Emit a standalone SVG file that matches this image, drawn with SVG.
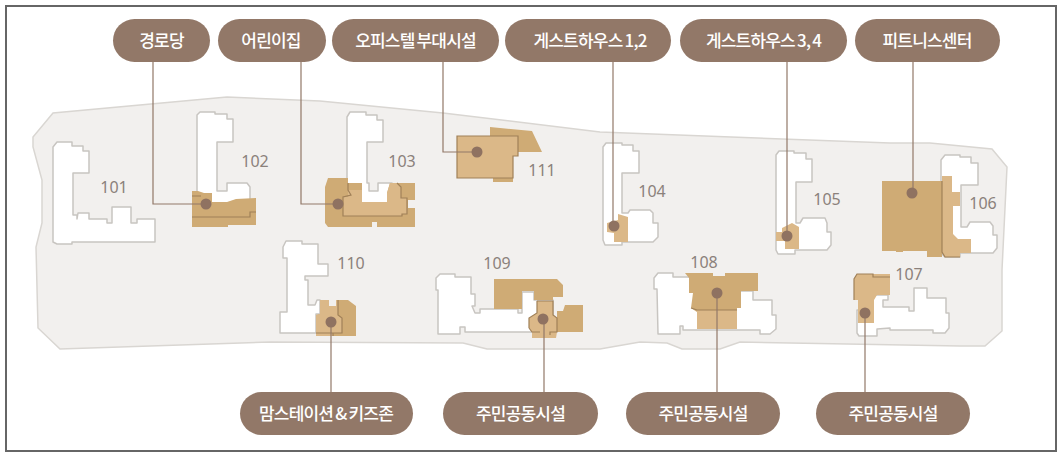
<svg xmlns="http://www.w3.org/2000/svg" width="1062" height="457" viewBox="0 0 1062 457">
<style>
.site{fill:#f2f0ee;stroke:#d9d6d2;stroke-width:1.5}
.wh{fill:#fff;stroke:#c8c5c1;stroke-width:1.5;stroke-linejoin:round}
.tan{fill:#cfab75}
.lt{fill:#dbb888}
.ol{fill:none;stroke:#a08058;stroke-width:1.2}
.dot{fill:#8f7261}
.pill{fill:#927868}
.pt{font-family:"Noto Sans CJK KR","Noto Sans",sans-serif;font-size:17px;font-weight:500;fill:#fff;text-anchor:middle;letter-spacing:-.8px;word-spacing:-1px}
.num{font-family:"Noto Sans","Open Sans",sans-serif;font-size:16px;fill:#8b817b;text-anchor:middle}
.ln{fill:none;stroke:#927868;stroke-width:1.2}
</style>
<rect x="6" y="6" width="1050" height="445" fill="#fff" stroke="#666" stroke-width="2"/>
<path class="site" d="M53 113L33 137V147L42 180V223L36 247L38 328L60 349L270 342L463 343L487 349H600L640 342L667 343L682 349H720L740 342L960 346H985L1002 331V270L1007 167L992 149L930 143H890L600 132L443 113L320 101L227 97Z"/>
<g id="b101"><path class="wh" d="M53 147L57 142H72V146H83V151H89V173H73V215H77V219L78 213H89V219H107V223H112V207H131V223H137V219H155V242H72V244H57L53 242Z"/><text class="num" x="114" y="193">101</text></g>
<g id="b102"><path class="wh" d="M197 115L200 112H215V114H227V119H233V142H217V191H227V183H247L250 187V205H197Z"/><path class="tan" d="M192 191L198 191L204 193H212V202H227L236 199L256 198V225H240L228 225V227H192Z"/><path class="ol" d="M192 196H201M192 217H250V212H256"/><text class="num" x="255" y="167">102</text></g>
<g id="b103"><path class="wh" d="M347 117L350 112H366V115H377V120H383V142H367V183H369V191H378V183H392V205H347Z"/><path class="tan" d="M328 178H348V183H362V202H387V193L390 183H415V200H408V208H415V227H377V222H372V227H328L325 223V187Z"/><path class="lt" d="M348 190H362V202H387V193L390 183H397L401 187V198H407V214H402V216H343V197H348Z"/><path class="ol" d="M348 183V190L351 195L343 197V216H402V214H407V198H401V187L397 183"/><text class="num" x="402" y="167">103</text></g>
<g id="b111"><path class="tan" d="M490 127L532 131L542 152H518V156H513V182H493V178H457V136H490Z"/><path class="lt" d="M457 136H518V156H513V178H457Z"/><path class="ol" d="M457 136H518V156H513V178H457Z"/><text class="num" x="542" y="176">111</text></g>
<g id="b104"><path class="wh" d="M603 147L606 143H622V145H633V151H639V173H622V213H628L630 210H650L653 213V223H658V237L653 242H622V245H605L603 240Z"/><path class="lt" d="M618 214L628 217V242H614V233L607 232V223L618 220Z"/><text class="num" x="652" y="197">104</text></g>
<g id="b105"><path class="wh" d="M776 155L779 151H794V153H806V159H812V182H796V223H800L803 218H825L827 223V232H831V245L827 250H795V254H778L776 250Z"/><path class="lt" d="M782 228L792 223L799 227V249H785V241H776V232H782Z"/><text class="num" x="827" y="205">105</text></g>
<g id="b106"><path class="wh" d="M941 160L945 155H960V157H971V163H978V185H961V227H967L970 222H990L993 226V235H997V248L993 253H960V257H945L941 253Z"/><path class="tan" d="M882 181H942V257H927V251H903V252H896V251H882Z"/><path class="lt" d="M942 176H952V192H960V206H953V234L958 239H971V253H960V257H945L942 253Z"/><path class="ol" d="M942 181V252L945 257H960"/><text class="num" x="983" y="209">106</text></g>
<g id="b107"><path class="wh" d="M857 310V333L859 336H877V329L890 328V330H933V333H945L949 328V313H946V298H927V288H914V311H909V307H883V300H888V295H870V310Z"/><path class="lt" d="M857 274H890V295H877L874 300V323H858V300H854V279Z"/><path class="ol" d="M854 300V279L857 274H873V277H890"/><text class="num" x="909" y="280">107</text></g>
<g id="b108"><path class="wh" d="M654 278L658 273H673V277H700V291H753V300H772V315H776V329L770 334H760V330H683V326H680V334H658L657 289H654Z"/><path class="tan" d="M685 273H713V276H725V273H758V291H741V308H737V312H697L691 308L693 293H689V278Z"/><path class="lt" d="M697 310H737V329H697Z"/><path class="ol" d="M691 308L697 310H737"/><text class="num" x="704" y="268">108</text></g>
<g id="b109"><path class="wh" d="M436 278L440 274H455V277H471V294H475V306H472L475 313H480V309H518V313H522V292H534V300H553V332H465V327H460V334H438V290H436Z"/><path class="tan" d="M494 279H557L563 285V297H553V300H534V291H522V309H494Z"/><path class="tan" d="M565 305H583V332H557V311H563Z"/><path class="lt" d="M537 301H553V315L557 318V332L556 338H532V332L529 328V318L537 313Z"/><path class="ol" d="M537 301H553V315L557 318V332H550V335M529 328V318L537 313V301M529 328L532 332H540"/><text class="num" x="497" y="269">109</text></g>
<g id="b110"><path class="wh" d="M283 247L286 241H302V244H318V264H328V276H305V280H308V305H315L317 300H320V314H316V333H280V312H287V258H283Z"/><path class="tan" d="M320 300H329V306H336V300H348L356 306V336H316V315L320 314Z"/><path class="lt" d="M320 300H329V306H336V300H338V315L342 318V333H333V336H316V315L320 314Z"/><path class="ol" d="M338 300V315L342 318V333H333V336M316 333H333"/><text class="num" x="351" y="269">110</text></g>
<g id="connectors">
<path class="ln" d="M153 62V204H206"/>
<path class="ln" d="M301 62V204H338"/>
<path class="ln" d="M443 62V152H477"/>
<path class="ln" d="M613 62V226"/>
<path class="ln" d="M787 62V236"/>
<path class="ln" d="M913 62V193"/>
<path class="ln" d="M331 322V392"/>
<path class="ln" d="M544 319V392"/>
<path class="ln" d="M717 293V392"/>
<path class="ln" d="M865 313V392"/>
</g>
<g id="dots">
<circle class="dot" cx="206" cy="204" r="5.500"/><circle class="dot" cx="338" cy="204" r="5.500"/><circle class="dot" cx="477" cy="152" r="5.500"/><circle class="dot" cx="614" cy="226" r="5.500"/><circle class="dot" cx="787" cy="236" r="5.500"/><circle class="dot" cx="912" cy="193" r="5.500"/><circle class="dot" cx="331" cy="322" r="5.500"/><circle class="dot" cx="543" cy="319" r="5.500"/><circle class="dot" cx="717" cy="293" r="5.500"/><circle class="dot" cx="865" cy="313" r="5.500"/>
</g>
<g id="n1"><rect class="pill" x="113" y="19" width="97" height="43" rx="21.500"/><text class="pt" x="161.500" y="46.500">경로당</text></g>
<g id="n2"><rect class="pill" x="218" y="19" width="108" height="43" rx="21.500"/><text class="pt" x="271" y="46.500">어린이집</text></g>
<g id="n3"><rect class="pill" x="332" y="19" width="167" height="43" rx="21.500"/><text class="pt" x="415.500" y="46.500">오피스텔 부대시설</text></g>
<g id="n4"><rect class="pill" x="505" y="19" width="166" height="43" rx="21.500"/><text class="pt" x="590" y="46.500">게스트하우스 1,2</text></g>
<g id="n5"><rect class="pill" x="680" y="19" width="167" height="43" rx="21.500"/><text class="pt" x="763.500" y="46.500">게스트하우스 3, 4</text></g>
<g id="n6"><rect class="pill" x="855" y="19" width="145" height="43" rx="21.500"/><text class="pt" x="927" y="46.500">피트니스센터</text></g>
<g id="n7"><rect class="pill" x="240" y="392" width="173" height="43" rx="21.500"/><text class="pt" x="326" y="420">맘스테이션 &amp; 키즈존</text></g>
<g id="n8"><rect class="pill" x="443" y="392" width="155" height="43" rx="21.500"/><text class="pt" x="520.500" y="420">주민공동시설</text></g>
<g id="n9"><rect class="pill" x="626" y="392" width="154" height="43" rx="21.500"/><text class="pt" x="703" y="420">주민공동시설</text></g>
<g id="n10"><rect class="pill" x="816" y="392" width="154" height="43" rx="21.500"/><text class="pt" x="893" y="420">주민공동시설</text></g>
</svg>
